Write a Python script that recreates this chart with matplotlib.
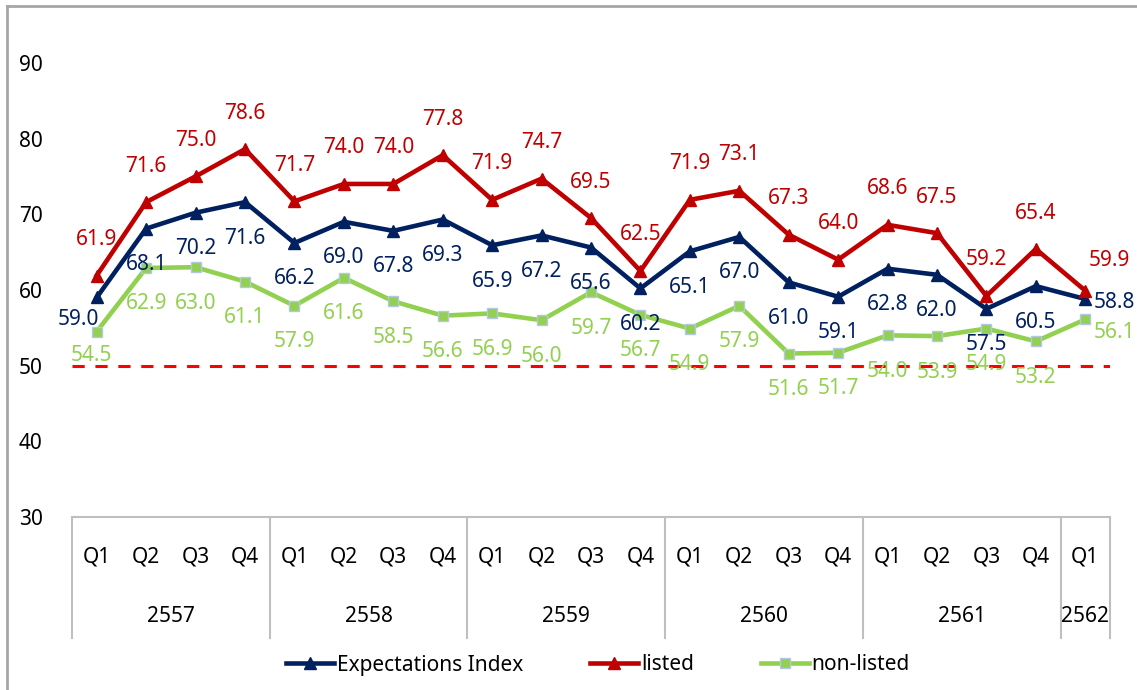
import matplotlib.pyplot as plt
from matplotlib.lines import Line2D

plt.rcParams['font.family'] = ['Noto Sans', 'DejaVu Sans']

quarters = ['Q1', 'Q2', 'Q3', 'Q4'] * 5 + ['Q1']
years = ['2557', '2558', '2559', '2560', '2561', '2562']
year_sizes = [4, 4, 4, 4, 4, 1]

expectations = [59.0, 68.1, 70.2, 71.6, 66.2, 69.0, 67.8, 69.3, 65.9, 67.2, 65.6,
                60.2, 65.1, 67.0, 61.0, 59.1, 62.8, 62.0, 57.5, 60.5, 58.8]
listed = [61.9, 71.6, 75.0, 78.6, 71.7, 74.0, 74.0, 77.8, 71.9, 74.7, 69.5,
          62.5, 71.9, 73.1, 67.3, 64.0, 68.6, 67.5, 59.2, 65.4, 59.9]
non_listed = [54.5, 62.9, 63.0, 61.1, 57.9, 61.6, 58.5, 56.6, 56.9, 56.0, 59.7,
              56.7, 54.9, 57.9, 51.6, 51.7, 54.0, 53.9, 54.9, 53.2, 56.1]
threshold = 50

navy = '#002060'
red = '#C00000'
green = '#92D050'
grey = '#BFBFBF'
fs = 15

fig = plt.figure(figsize=(11.37, 6.90), dpi=100)
ax = fig.add_axes([72 / 1137, 173 / 690, 1038 / 1137, 492 / 690])

x = list(range(len(quarters)))

ax.axhline(threshold, xmin=0, xmax=1, color='#FF0000', lw=2.2, dashes=(4, 3.5), zorder=1)

ax.plot(x, non_listed, color=green, lw=3.3, marker='s', ms=7.5,
        mfc=green, mec='#B4C7E7', mew=1, zorder=3, label='non-listed')
ax.plot(x, expectations, color=navy, lw=3.3, marker='^', ms=9,
        mfc=navy, mec=navy, zorder=4, label='Expectations Index')
ax.plot(x, listed, color=red, lw=3.3, marker='^', ms=9,
        mfc=red, mec=red, zorder=5, label='listed')

# data labels (offsets in pixels), a few moved by hand as in the original
n = len(x)
exp_off = [(0, -36)] * n
exp_off[0] = (-18, -22)
list_off = [(0, 36)] * n
list_off[-1] = (24, 30)
non_off = [(0, -36)] * n
non_off[0] = (-5, -24)

for i in range(n):
    dx, dy = list_off[i]
    ax.annotate(f'{listed[i]:.1f}', (x[i], listed[i]), xytext=(dx, dy),
                textcoords='offset pixels', ha='center', va='center',
                color=red, fontsize=fs, zorder=6)
    dx, dy = exp_off[i]
    ha = 'center'
    if i == n - 1:
        dx, dy, ha = 8, -3, 'left'
    ax.annotate(f'{expectations[i]:.1f}', (x[i], expectations[i]), xytext=(dx, dy),
                textcoords='offset pixels', ha=ha, va='center',
                color=navy, fontsize=fs, zorder=6)
    dx, dy = non_off[i]
    ha = 'center'
    if i == n - 1:
        dx, dy, ha = 8, -13, 'left'
    ax.annotate(f'{non_listed[i]:.1f}', (x[i], non_listed[i]), xytext=(dx, dy),
                textcoords='offset pixels', ha=ha, va='center',
                color=green, fontsize=fs, zorder=6)

ax.set_xlim(-0.5, n - 0.5)
ax.set_ylim(30, 95)
ax.set_yticks([30, 40, 50, 60, 70, 80, 90])
ax.tick_params(axis='y', length=0, pad=21, labelsize=fs)
ax.set_xticks([])
for s in ['top', 'right', 'left']:
    ax.spines[s].set_visible(False)
ax.spines['bottom'].set_color(grey)
ax.spines['bottom'].set_linewidth(1.5)

# two-level category axis
tr = ax.get_xaxis_transform()
for i, q in enumerate(quarters):
    ax.text(x[i], -0.081, q, transform=tr, ha='center', va='center', fontsize=fs)
start = 0
edges = [-0.5]
for yr, size in zip(years, year_sizes):
    mid = start + (size - 1) / 2
    ax.text(mid, -0.203, yr, transform=tr, ha='center', va='center', fontsize=fs)
    start += size
    edges.append(start - 0.5)
for e in edges:
    ax.add_line(Line2D([e, e], [0, -0.246], transform=tr, color=grey, lw=1.5,
                       clip_on=False))

handles, labels = ax.get_legend_handles_labels()
order = [1, 2, 0]
fig.legend([handles[k] for k in order], [labels[k] for k in order],
           loc='center', bbox_to_anchor=(598 / 1137, 25 / 690), ncol=3,
           frameon=False, fontsize=fs, handlelength=2.3, handletextpad=0.15,
           columnspacing=3.2)

# chart area border (top and left visible)
fig.add_artist(Line2D([7 / 1137, 7 / 1137], [0, 1 - 6 / 690], color='#A6A6A6', lw=2))
fig.add_artist(Line2D([7 / 1137, 1], [1 - 6 / 690, 1 - 6 / 690], color='#A6A6A6', lw=2))

fig.savefig('out.png', dpi=100)
